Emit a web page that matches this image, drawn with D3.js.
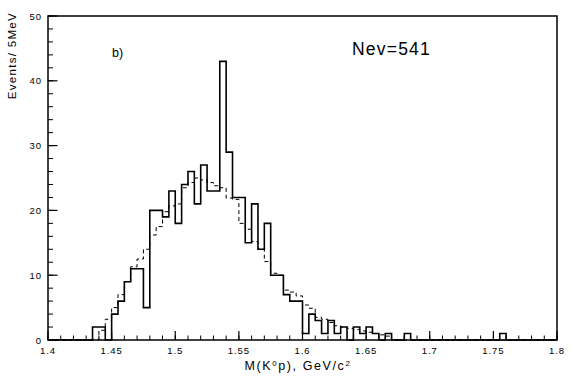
<!DOCTYPE html>
<html>
<head>
<meta charset="utf-8">
<script src="https://cdn.jsdelivr.net/npm/d3@7"></script>
<style>
  body { margin: 0; background: #fff; }
  svg text { font-family: "Liberation Sans", Arial, sans-serif; fill: #000; }
</style>
</head>
<body>
<svg id="chart" width="575" height="382"></svg>
<script>
// istogramma M(K0 p), bin da 5 MeV tra 1.4 e 1.8
var binStart = 1.4;
var binWidth = 0.005;

// dati (conteggi per bin, 80 bin)
var dataCounts = [
  0, 0, 0, 0, 0, 0, 0, 2, 2, 0,
  4, 6, 9, 11, 11, 5, 20, 20, 19, 23,
  18, 24, 26, 21, 27, 23, 23, 43, 29, 22,
  22, 15, 21, 14, 18, 10, 10, 7, 6, 6,
  1, 4, 3, 1, 3, 1, 2, 0, 2, 1,
  2, 1, 0, 1, 0, 0, 1, 0, 0, 0,
  0, 0, 0, 0, 0, 0, 0, 0, 0, 0,
  0, 1, 0, 0, 0, 0, 0, 0, 0, 0
];

// curva tratteggiata (MC)
var mcCounts = [
  0, 0, 0, 0, 0, 0, 0, 0, 1.5, 3.2,
  5.0, 7.0, 9.0, 11.3, 12.5, 14.0, 16.2, 17.5, 19.8, 20.7,
  21.0, 23.5, 24.3, 25.0, 24.7, 24.3, 23.8, 23.5, 21.9, 21.7,
  18.0, 17.1, 15.2, 14.0, 12.1, 10.3, 10.0, 7.7, 7.4, 6.8,
  5.4, 4.9, 3.5, 3.2, 2.7, 2.2, 2.0, 1.8, 1.6, 1.4,
  1.2, 1.0, 0.8, 0.6, 0, 0, 0, 0, 0, 0,
  0, 0, 0, 0, 0, 0, 0, 0, 0, 0,
  0, 0, 0, 0, 0, 0, 0, 0, 0, 0
];

var xMajorTicks = [1.4, 1.45, 1.5, 1.55, 1.6, 1.65, 1.7, 1.75, 1.8];
var xTickLabels = ["1.4", "1.45", "1.5", "1.55", "1.6", "1.65", "1.7", "1.75", "1.8"];
var yMajorTicks = [0, 10, 20, 30, 40, 50];

var svg = d3.select("#chart");

var x = d3.scaleLinear().domain([1.4, 1.8]).range([48, 557]);
var y = d3.scaleLinear().domain([0, 50]).range([340, 16]);

// tick minori
var xMinor = d3.range(0, 41).map(i => 1.4 + i * 0.01);
var yMinor = d3.range(0, 26).map(i => i * 2);

var g = svg.append("g");

g.selectAll(".xminor").data(xMinor).enter().append("line")
  .attr("x1", d => x(d)).attr("x2", d => x(d))
  .attr("y1", y(0)).attr("y2", y(0) - 4.5)
  .attr("stroke", "#000").attr("stroke-width", 1);

g.selectAll(".xmajor").data(xMajorTicks).enter().append("line")
  .attr("x1", d => x(d)).attr("x2", d => x(d))
  .attr("y1", y(0)).attr("y2", y(0) - 9)
  .attr("stroke", "#000").attr("stroke-width", 1.2);

g.selectAll(".yminor").data(yMinor).enter().append("line")
  .attr("x1", x(1.4)).attr("x2", x(1.4) + 5)
  .attr("y1", d => y(d)).attr("y2", d => y(d))
  .attr("stroke", "#000").attr("stroke-width", 1);

g.selectAll(".ymajor").data(yMajorTicks).enter().append("line")
  .attr("x1", x(1.4)).attr("x2", x(1.4) + 9.5)
  .attr("y1", d => y(d)).attr("y2", d => y(d))
  .attr("stroke", "#000").attr("stroke-width", 1.2);

// etichette
g.selectAll(".xlab").data(xMajorTicks).enter().append("text")
  .attr("x", d => x(d)).attr("y", 354)
  .attr("text-anchor", "middle")
  .attr("font-size", 9.5)
  .attr("letter-spacing", 1)
  .text((d, i) => xTickLabels[i]);

g.selectAll(".ylab").data(yMajorTicks).enter().append("text")
  .attr("x", 42).attr("y", d => y(d) + 3.5)
  .attr("text-anchor", "end")
  .attr("font-size", 9.5)
  .attr("letter-spacing", 1)
  .text(d => d);

// istogrammi a gradini
function stepPoints(counts) {
  var pts = counts.map((v, i) => [binStart + i * binWidth, v]);
  pts.push([binStart + counts.length * binWidth, counts[counts.length - 1]]);
  return pts;
}
var line = d3.line().x(d => x(d[0])).y(d => y(d[1])).curve(d3.curveStepAfter);

g.append("path")
  .attr("d", line(stepPoints(mcCounts)))
  .attr("fill", "none").attr("stroke", "#000")
  .attr("stroke-width", 1).attr("stroke-dasharray", "4,3");

g.append("path")
  .attr("d", line(stepPoints(dataCounts)))
  .attr("fill", "none").attr("stroke", "#000")
  .attr("stroke-width", 1.6);

// cornice
g.append("rect")
  .attr("x", x(1.4)).attr("y", y(50))
  .attr("width", x(1.8) - x(1.4)).attr("height", y(0) - y(50))
  .attr("fill", "none").attr("stroke", "#000").attr("stroke-width", 1.5);

// titoli
svg.append("text")
  .attr("transform", "translate(16,12) rotate(-90)")
  .attr("text-anchor", "end")
  .attr("font-size", 11.5)
  .attr("letter-spacing", 1.3)
  .text("Events/ 5MeV");

var xt = svg.append("text")
  .attr("x", 298).attr("y", 370)
  .attr("text-anchor", "middle")
  .attr("font-size", 12.5)
  .attr("letter-spacing", 1.6);
xt.append("tspan").text("M(K");
xt.append("tspan").attr("dy", -4.5).attr("font-size", 8).text("0");
xt.append("tspan").attr("dy", 4.5).text("p), GeV/c");
xt.append("tspan").attr("dy", -4.5).attr("font-size", 8).text("2");

svg.append("text")
  .attr("x", 112).attr("y", 57)
  .attr("font-size", 12.5)
  .text("b)");

svg.append("text")
  .attr("x", 352).attr("y", 55)
  .attr("font-size", 17.5)
  .attr("letter-spacing", 1.2)
  .text("Nev=541");
</script>
</body>
</html>
